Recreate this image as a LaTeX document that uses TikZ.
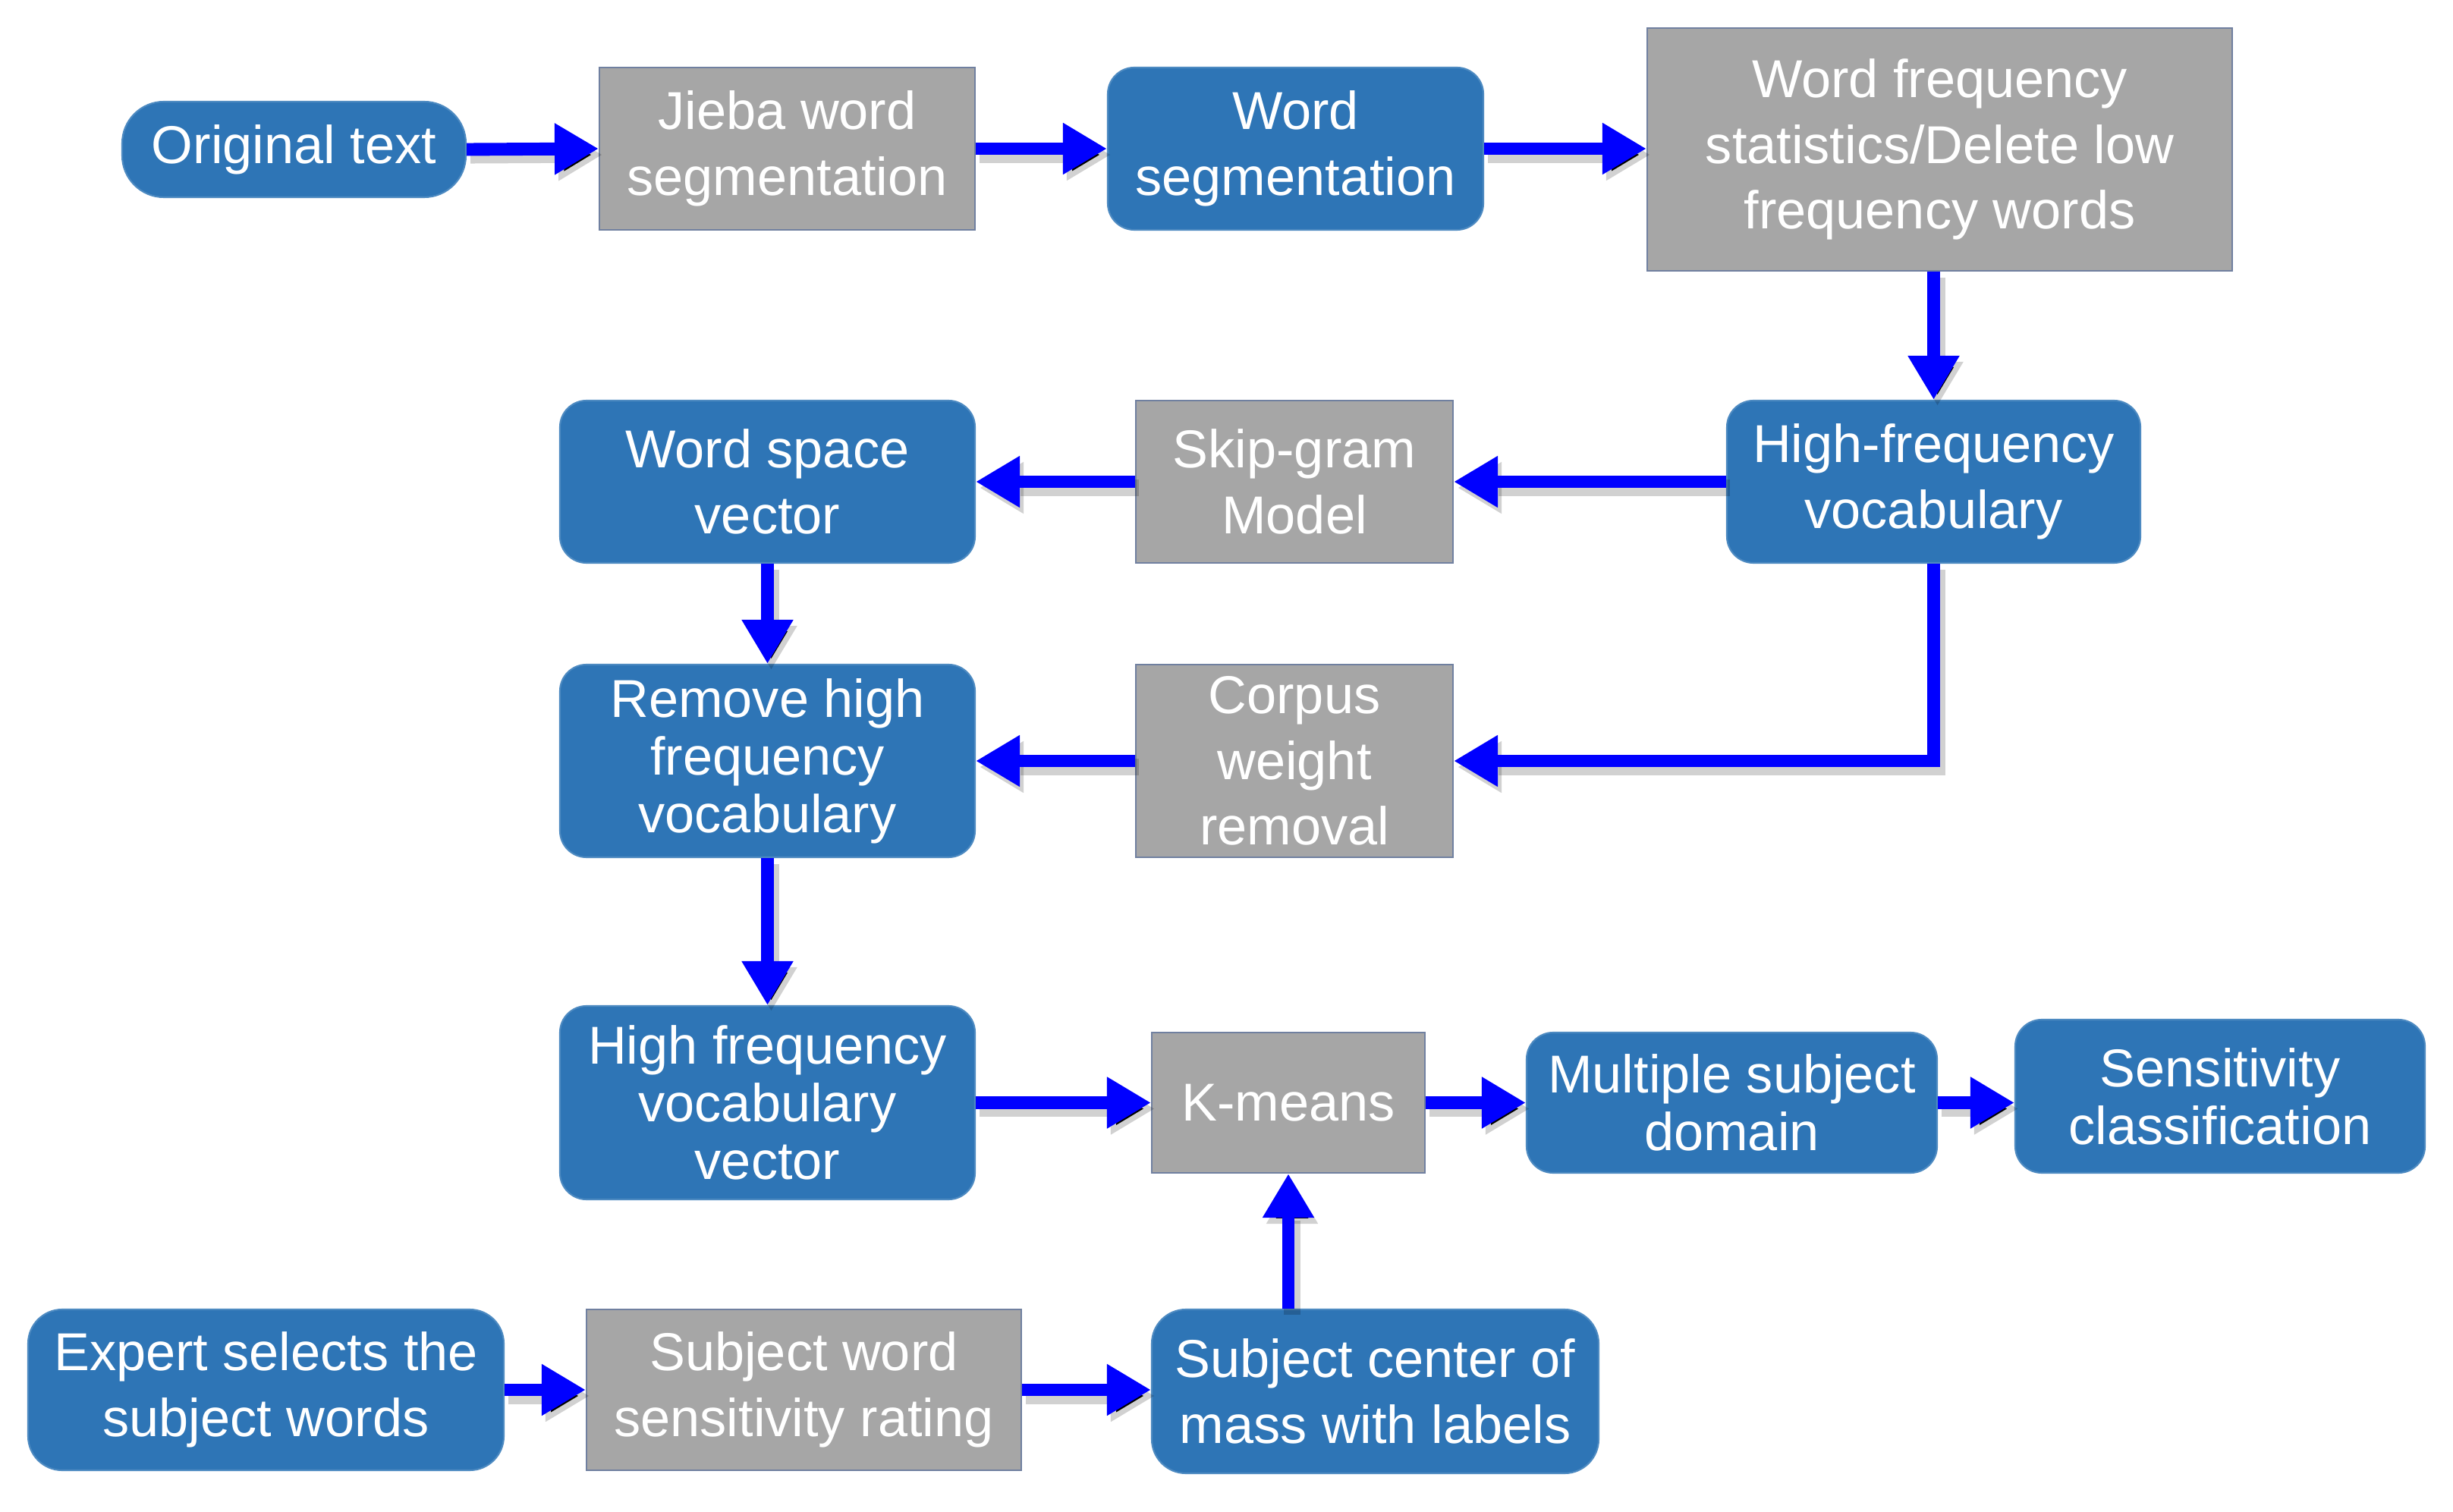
\documentclass[tikz,border=0pt]{standalone}
\usepackage{fontspec}
\setmainfont{Liberation Sans}
\usetikzlibrary{shapes,arrows.meta,positioning}
\usepackage{xcolor}
\definecolor{stepblue}{RGB}{46,117,182}
\definecolor{stepgray}{RGB}{166,166,166}
\definecolor{edgegray}{RGB}{112,128,160}
\definecolor{flowblue}{RGB}{0,0,255}

\begin{document}
\begin{tikzpicture}[
    blk/.style={draw=stepblue!85!white, line width=0.6pt, fill=stepblue, rounded corners=0.35cm, text=white, align=center, font=\fontsize{20}{24.6}\selectfont, inner sep=0pt},
    gry/.style={draw=edgegray, line width=0.6pt, fill=stepgray, text=white, align=center, font=\fontsize{20}{24.6}\selectfont, inner sep=0pt},
    flow/.style={draw=flowblue, line width=4.8pt, -{Triangle[length=0.58cm, width=0.64cm]},
        preaction={draw=black, draw opacity=0.18, line width=6pt, transform canvas={shift={(0.05cm,-0.08cm)}}}}
]
    \useasboundingbox (0,0) rectangle (32.33,-19.93);
    % Top row
    \node[blk, rounded corners=0.55cm, minimum width=4.53cm, minimum height=1.26cm] (orig) at (3.875,-1.97) {Original text};
    \node[gry, minimum width=4.95cm, minimum height=2.14cm] (jieba) at (10.375,-1.96) {Jieba word\\segmentation};
    \node[blk, minimum width=4.95cm, minimum height=2.14cm] (wseg) at (17.075,-1.96) {Word\\segmentation};
    \node[gry, minimum width=7.71cm, minimum height=3.20cm] (wfreq) at (25.565,-1.97) {Word frequency\\statistics/Delete low\\frequency words};
    \draw[flow] (orig.east) -- (jieba.west);
    \draw[flow] (jieba.east) -- (wseg.west);
    \draw[flow] (wseg.east) -- (wseg.east -| wfreq.west);

    % Second row
    \node[blk, minimum width=5.45cm, minimum height=2.14cm] (hfv) at (25.485,-6.35) {High-frequency\\vocabulary};
    \node[gry, minimum width=4.18cm, minimum height=2.14cm] (skip) at (17.06,-6.35) {Skip-gram\\Model};
    \node[blk, minimum width=5.47cm, minimum height=2.14cm] (wsv) at (10.115,-6.35) {Word space\\vector};
    \draw[flow] (wfreq.south -| hfv.north) -- (hfv.north);
    \draw[flow] (hfv.west) -- (skip.east);
    \draw[flow] (skip.west) -- (wsv.east);

    % Third row
    \node[blk, minimum width=5.47cm, minimum height=2.54cm] (remove) at (10.115,-10.03) {Remove high\\[-3pt]frequency\\[-3pt]vocabulary};
    \node[gry, minimum width=4.18cm, minimum height=2.54cm] (corpus) at (17.06,-10.03) {Corpus\\weight\\removal};
    \draw[flow] (wsv.south) -- (remove.north);
    \draw[flow] (hfv.south) |- (corpus.east);
    \draw[flow] (corpus.west) -- (remove.east);

    % Fourth row
    \node[blk, minimum width=5.47cm, minimum height=2.55cm] (hfvv) at (10.115,-14.535) {High frequency\\[-3pt]vocabulary\\[-3pt]vector};
    \node[gry, minimum width=3.60cm, minimum height=1.85cm] (kmeans) at (16.98,-14.535) {K-means};
    \node[blk, minimum width=5.41cm, minimum height=1.85cm] (multi) at (22.825,-14.535) {Multiple subject\\[-3pt]domain};
    \node[blk, minimum width=5.40cm, minimum height=2.02cm] (sens) at (29.26,-14.45) {Sensitivity\\[-3pt]classification};
    \draw[flow] (remove.south) -- (hfvv.north);
    \draw[flow] (hfvv.east) -- (kmeans.west);
    \draw[flow] (kmeans.east) -- (multi.west);
    \draw[flow] (multi.east) -- (multi.east -| sens.west);

    % Bottom row
    \node[blk, rounded corners=0.45cm, minimum width=6.27cm, minimum height=2.12cm] (expert) at (3.505,-18.32) {Expert selects the\\subject words};
    \node[gry, minimum width=5.73cm, minimum height=2.12cm] (subjw) at (10.595,-18.32) {Subject word\\sensitivity rating};
    \node[blk, rounded corners=0.45cm, minimum width=5.89cm, minimum height=2.16cm] (cmass) at (18.125,-18.34) {Subject center of\\mass with labels};
    \draw[flow] (expert.east) -- (subjw.west);
    \draw[flow] (subjw.east) -- (subjw.east -| cmass.west);
    \draw[flow] (kmeans.south |- cmass.north) -- (kmeans.south);
\end{tikzpicture}
\end{document}
